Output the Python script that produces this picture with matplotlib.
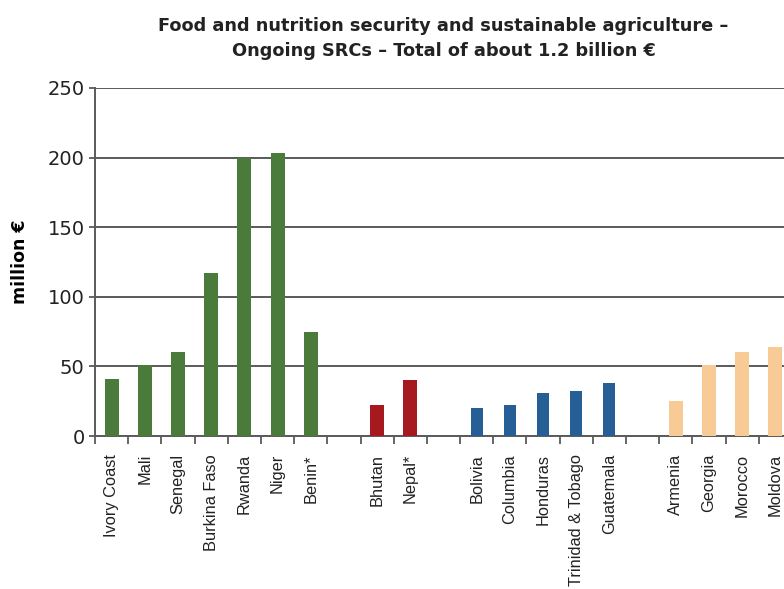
import numpy as np
import matplotlib
matplotlib.use("Agg")
import matplotlib.pyplot as plt

plt.rcParams['font.family'] = ['DejaVu Sans']

# groups of countries, a blank slot between groups
africa = ["Ivory Coast", "Mali", "Senegal", "Burkina Faso", "Rwanda", "Niger", "Benin*"]
africa_val = [41, 51, 60, 117, 200, 203, 75]
asia = ["Bhutan", "Nepal*"]
asia_val = [22, 40]
latam = ["Bolivia", "Columbia", "Honduras", "Trinidad & Tobago", "Guatemala"]
latam_val = [20, 22, 31, 32, 38]
neigh = ["Armenia", "Georgia", "Morocco", "Moldova"]
neigh_val = [25, 51, 60, 64]

groups = [(africa, africa_val, "#4a7b3b", 0.42),
          (asia, asia_val, "#a6191f", 0.42),
          (latam, latam_val, "#255f95", 0.36),
          (neigh, neigh_val, "#f8ca95", 0.42)]

fig = plt.figure(figsize=(7.84, 5.89), dpi=100)
ax = fig.add_axes([95/784, 1 - 436/589, 697/784, 348/589])

pos = 0
labels, centers = [], []
for names_, vals, col, w in groups:
    x = np.arange(pos, pos + len(names_))
    ax.bar(x, vals, width=w, color=col, zorder=3)
    labels += names_
    centers += list(x)
    pos += len(names_) + 1
nslots = pos - 1

ax.set_xlim(-0.5, nslots - 0.5)
ax.set_ylim(0, 250)
ax.set_yticks(np.arange(0, 251, 50))
ax.yaxis.grid(True, color="#5a5a5a", linewidth=1.4, zorder=0)
ax.set_axisbelow(True)

ax.set_xticks(np.arange(nslots + 1) - 0.5)
ax.set_xticklabels([])
ax.set_xticks(centers, minor=True)
ax.set_xticklabels(labels, minor=True, rotation=90, fontsize=11.8, va="top",
                   color="#222222", family=["Liberation Sans", "DejaVu Sans"])
ax.tick_params(axis="x", which="major", length=6, width=1.3, color="#5a5a5a", direction="out")
ax.tick_params(axis="x", which="minor", length=0, pad=13)
ax.tick_params(axis="y", length=4, width=1.3, color="#5a5a5a", labelsize=14, labelcolor="#222222")

for s in ["top", "right"]:
    ax.spines[s].set_visible(False)
for s in ["left", "bottom"]:
    ax.spines[s].set_color("#5a5a5a")
    ax.spines[s].set_linewidth(1.4)

ax.set_ylabel("million €", fontsize=12.5, fontweight="bold")
ax.yaxis.set_label_coords(-0.094, 0.5)
ax.set_title("Food and nutrition security and sustainable agriculture –\nOngoing SRCs – Total of about 1.2 billion €",
             fontsize=12.8, fontweight="bold", color="#222222", pad=23, linespacing=1.5)

fig.savefig("out.png", dpi=100)
